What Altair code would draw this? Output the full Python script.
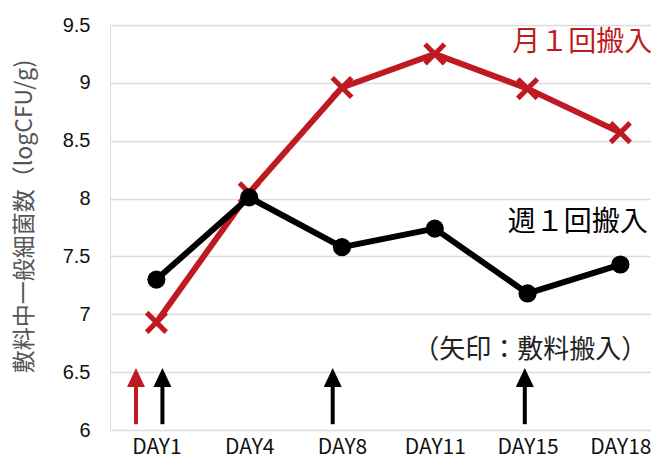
import json
import altair as alt
import pandas as pd

# ---- data ----
days = ["DAY1", "DAY4", "DAY8", "DAY11", "DAY15", "DAY18"]
monthly_vals = [6.93, 8.05, 8.96, 9.25, 8.95, 8.57]   # 月１回搬入 (red, x markers)
weekly_vals = [7.30, 8.01, 7.58, 7.74, 7.18, 7.43]    # 週１回搬入 (black, circles)
arrow_days = ["DAY1", "DAY1", "DAY8", "DAY15"]
arrow_group = ["monthly", "weekly", "weekly", "weekly"]
y_ticks = [6, 6.5, 7, 7.5, 8, 8.5, 9, 9.5]

RED = "#BF1A22"
BLACK = "#000000"
JP = "Noto Sans CJK JP"

df_m = pd.DataFrame({"idx": list(range(len(days))), "day": days, "v": monthly_vals})
df_w = pd.DataFrame({"idx": list(range(len(days))), "day": days, "v": weekly_vals})

arrow_shift = [-0.22, 0.065, -0.1, -0.03]
df_a = pd.DataFrame({
    "x": [days.index(d) + s for d, s in zip(arrow_days, arrow_shift)],
    "g": arrow_group,
    "y0": [6.05] * len(arrow_days),
    "y1": [6.40] * len(arrow_days),
    "yh": [6.453] * len(arrow_days),
})

label_expr = "%s[datum.value]" % json.dumps(days)

x_scale = alt.Scale(domain=[-0.5, 5.33], nice=False, zero=False)
y_scale = alt.Scale(domain=[6, 9.5], nice=False, zero=False)

x_enc = alt.X("idx:Q", scale=x_scale,
              axis=alt.Axis(values=list(range(len(days))), labelExpr=label_expr,
                            title=None, grid=False, domain=False, ticks=False,
                            labelFont=JP, labelFontSize=21, labelColor="#111111",
                            labelPadding=6))
y_enc = alt.Y("v:Q", scale=y_scale,
              axis=alt.Axis(values=y_ticks, title="敷料中一般細菌数（logCFU/g)",
                            labelExpr="format(datum.value, '~g')",
                            grid=True, gridColor="#DCDCDC", gridWidth=1.6,
                            domain=False, ticks=False, labelPadding=20,
                            labelFont="Liberation Sans", labelFontSize=20,
                            labelColor="#111111",
                            titleFont=JP, titleFontSize=23, titleFontWeight="normal",
                            titleColor="#555555", titleAngle=-90,
                            titleX=-86, titleY=191, titleAlign="center",
                            titleBaseline="middle"))

cross_path = "M-1,-1L1,1M1,-1L-1,1"
tri_path = "M0,-0.95L0.9,0.95L-0.9,0.95Z"

red_line = alt.Chart(df_m).mark_line(color=RED, strokeWidth=6).encode(x=x_enc, y=y_enc)
red_pts = alt.Chart(df_m).mark_point(shape=cross_path, filled=False, stroke=RED,
                                     strokeWidth=5, size=380, opacity=1).encode(x="idx:Q", y="v:Q")
blk_line = alt.Chart(df_w).mark_line(color=BLACK, strokeWidth=6).encode(x="idx:Q", y="v:Q")
blk_pts = alt.Chart(df_w).mark_point(shape="circle", filled=True, color=BLACK,
                                     size=330, opacity=1).encode(x="idx:Q", y="v:Q")

color_scale = alt.Scale(domain=["monthly", "weekly"], range=[RED, BLACK])
arrow_shaft = alt.Chart(df_a).mark_rule(strokeWidth=4).encode(
    x="x:Q", y="y0:Q", y2="y1:Q",
    color=alt.Color("g:N", scale=color_scale, legend=None))
arrow_head = alt.Chart(df_a).mark_point(shape=tri_path, filled=True, size=400,
                                        opacity=1).encode(
    x="x:Q", y="yh:Q",
    color=alt.Color("g:N", scale=color_scale, legend=None))

txt_m = alt.Chart().mark_text(text="月１回搬入", font=JP, fontSize=28, color=RED,
                              align="center", baseline="middle").encode(
    x=alt.datum(4.59), y=alt.datum(9.344))
txt_w = alt.Chart().mark_text(text="週１回搬入", font=JP, fontSize=28, color=BLACK,
                              align="center", baseline="middle").encode(
    x=alt.datum(4.54), y=alt.datum(7.789))
txt_n = alt.Chart().mark_text(text="（矢印：敷料搬入）", font=JP, fontSize=26,
                              color="#222222", align="center", baseline="middle").encode(
    x=alt.datum(4.03), y=alt.datum(6.691))

chart = alt.layer(
    red_line, red_pts, blk_line, blk_pts, arrow_shaft, arrow_head, txt_m, txt_w, txt_n
).properties(
    width=541, height=405,
    autosize=alt.AutoSizeParams(type="none"),
    padding={"left": 102, "top": 17, "right": 0, "bottom": 28},
).configure_view(stroke=None).configure(background="white")

chart.save("out.html", embed_options={"renderer": "svg", "actions": False})
